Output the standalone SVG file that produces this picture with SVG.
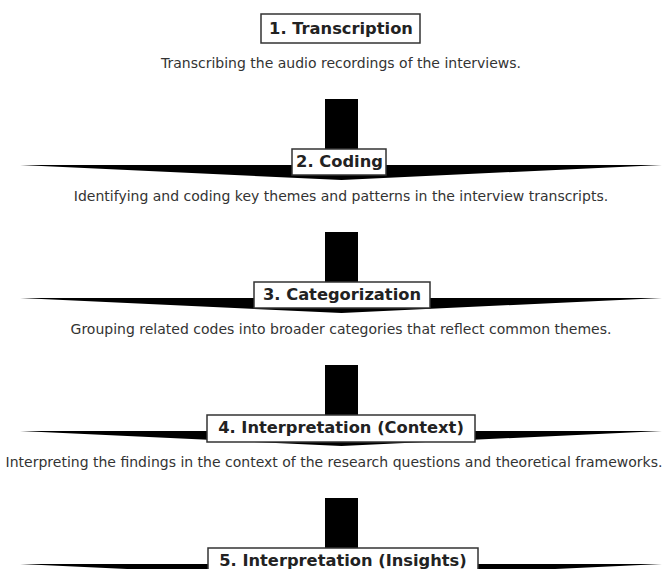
<svg xmlns="http://www.w3.org/2000/svg" width="670" height="569" viewBox="0 0 670 569">
<style>
.bg{fill:#ffffff}
.arrow{fill:#000000;stroke:none}
.box{fill:#ffffff;stroke:#333333;stroke-width:1.5}
.title{font-family:"DejaVu Sans",sans-serif;font-weight:bold;font-size:16.3px;fill:#222222;text-anchor:middle}
.desc{font-family:"DejaVu Sans",sans-serif;font-size:14px;fill:#333333;text-anchor:middle}
</style>
<rect class="bg" x="0" y="0" width="670" height="569"/>
<g id="connectors">
<polygon class="arrow" points="325,99 358,99 358,165 662,165 341.5,180 20,165 325,165"/>
<polygon class="arrow" points="325,232 358,232 358,298 662,298 341.5,313 20,298 325,298"/>
<polygon class="arrow" points="325,365 358,365 358,431 662,431 341.5,446 20,431 325,431"/>
<polygon class="arrow" points="325,498 358,498 358,564 662,564 341.5,579 20,564 325,564"/>
</g>
<g id="node1">
<rect class="box" x="261" y="14" width="159" height="29"/>
<text class="title" x="341" y="34">1. Transcription</text>
<text class="desc" x="341" y="68">Transcribing the audio recordings of the interviews.</text>
</g>
<g id="node2">
<rect class="box" x="292" y="149" width="94" height="26"/>
<text class="title" x="339.5" y="167">2. Coding</text>
<text class="desc" x="341" y="201">Identifying and coding key themes and patterns in the interview transcripts.</text>
</g>
<g id="node3">
<rect class="box" x="254" y="282" width="176" height="26"/>
<text class="title" x="342" y="300">3. Categorization</text>
<text class="desc" x="341" y="334">Grouping related codes into broader categories that reflect common themes.</text>
</g>
<g id="node4">
<rect class="box" x="207" y="415" width="268" height="27"/>
<text class="title" x="341" y="433">4. Interpretation (Context)</text>
<text class="desc" x="334" y="467">Interpreting the findings in the context of the research questions and theoretical frameworks.</text>
</g>
<g id="node5">
<rect class="box" x="208" y="548" width="270" height="27"/>
<text class="title" x="343" y="566">5. Interpretation (Insights)</text>
</g>
</svg>
